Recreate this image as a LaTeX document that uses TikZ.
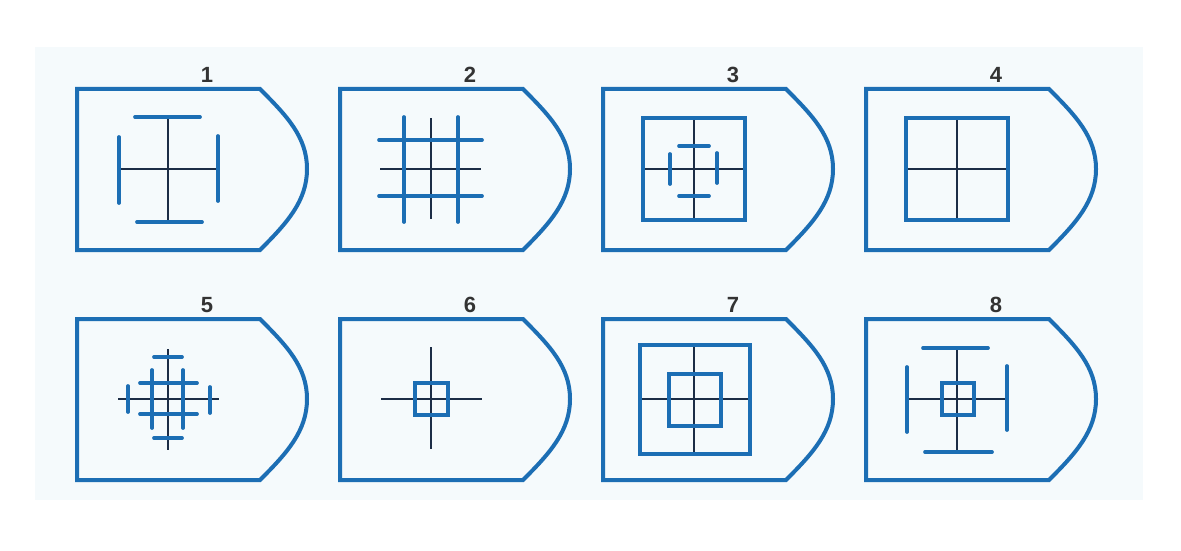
\documentclass[tikz,border=0pt]{standalone}
\usepackage{fontspec}
\setmainfont{Liberation Sans}
\usetikzlibrary{calc}

\definecolor{shieldblue}{RGB}{28,110,180}
\definecolor{hairline}{RGB}{28,45,70}
\definecolor{paper}{RGB}{245,250,252}

\tikzset{
	shield/.style={draw=shieldblue, line width=4pt},
	bar/.style={draw=shieldblue, line width=3.7pt, line cap=round},
	frame/.style={draw=shieldblue, line width=3.7pt},
	hair/.style={draw=hairline, line width=1.4pt},
	num/.style={font=\fontsize{22}{22}\selectfont\bfseries, text=black!80, inner sep=0pt}
}

\begin{document}
\begin{tikzpicture}[x=1pt, y=-1pt]
	\useasboundingbox (0,0) rectangle (1181,551);
	\fill [paper] (35,47) rectangle (1143,500);
	% outlines and numbers
	\foreach \n/\cx/\cy in {1/168/169, 2/431/169, 3/694/169, 4/957/169, 5/168/399, 6/431/399, 7/694/399, 8/957/399} {
		\begin{scope}[shift={(\cx,\cy)}]
			\coordinate (c\n) at (0,0);
			\draw [shield] (-91,-80) -- (92,-80) .. controls (119,-53) and (139,-32) .. (139,0) .. controls (139,32) and (119,54) .. (92,81) -- (-91,81) -- cycle;
			\node [num] (n\n) at (39,-94) {\n};
		\end{scope}
	}
	% 1
	\begin{scope}[shift={(c1)}]
		\draw [hair] (-49,0) -- (49,0) (0,-51) -- (0,51);
		\draw [bar] (-33,-52) -- (32,-52) (-31,53) -- (34,53) (-49,-32) -- (-49,34) (50,-33) -- (50,32);
	\end{scope}
	% 2
	\begin{scope}[shift={(c2)}]
		\draw [hair] (0,-51) -- (0,50) (-51,0) -- (50,0);
		\draw [bar] (-27,-52) -- (-27,53) (27,-52) -- (27,53) (-52,-29) -- (51,-29) (-52,27) -- (51,27);
	\end{scope}
	% 3
	\begin{scope}[shift={(c3)}]
		\draw [hair] (-51,0) -- (51,0) (0,-51) -- (0,51);
		\draw [frame] (-51,-51) rectangle (51,51);
		\draw [bar] (-15,-23) -- (15,-23) (-15,27) -- (15,27) (-24,-15) -- (-24,15) (23,-16) -- (23,14);
	\end{scope}
	% 4
	\begin{scope}[shift={(c4)}]
		\draw [hair] (-51,0) -- (51,0) (0,-51) -- (0,51);
		\draw [frame] (-51,-51) rectangle (51,51);
	\end{scope}
	% 5
	\begin{scope}[shift={(c5)}]
		\draw [hair] (-50,0) -- (51,0) (0,-50) -- (0,51);
		\draw [bar] (-16,-29) -- (-16,29) (15,-29) -- (15,29) (-28,-16) -- (29,-16) (-28,15) -- (29,15);
		\draw [bar] (-14,-42) -- (14,-42) (-14,39) -- (14,39) (-40,-13) -- (-40,13) (42,-12) -- (42,14);
	\end{scope}
	% 6
	\begin{scope}[shift={(c6)}]
		\draw [hair] (-50,0) -- (51,0) (0,-52) -- (0,50);
		\draw [frame] (-16,-16) rectangle (17,16);
	\end{scope}
	% 7
	\begin{scope}[shift={(c7)}]
		\draw [hair] (-54,0) -- (56,0) (0,-54) -- (0,55);
		\draw [frame] (-54,-54) rectangle (56,55);
		\draw [frame] (-25,-25) rectangle (27,27);
	\end{scope}
	% 8
	\begin{scope}[shift={(c8)}]
		\draw [hair] (-48,0) -- (49,0) (0,-51) -- (0,52);
		\draw [bar] (-34,-51) -- (31,-51) (-32,53) -- (35,53) (-50,-32) -- (-50,33) (50,-33) -- (50,31);
		\draw [frame] (-15,-16) rectangle (17,16);
	\end{scope}
\end{tikzpicture}
\end{document}
